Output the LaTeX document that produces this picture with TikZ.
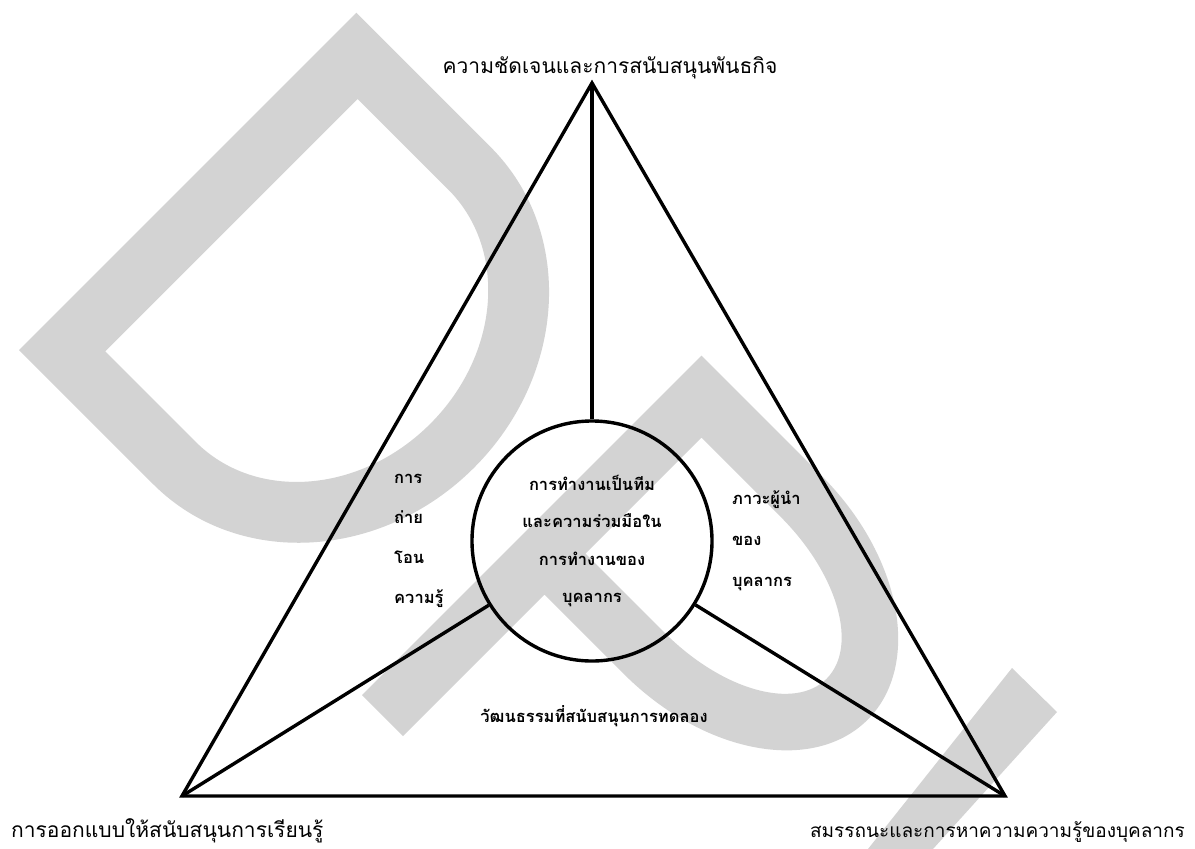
\documentclass[tikz,border=0pt]{standalone}
\usepackage{fontspec}
\newfontfamily\thai[Script=Thai]{Loma}
\definecolor{wm}{RGB}{211,211,211}
\begin{document}
\begin{tikzpicture}[x=1pt,y=-1pt,
  edge/.style={line width=3.4pt},
  plain/.style={font=\thai\fontsize{20}{24}\selectfont, inner sep=0pt},
  boldtxt/.style={font=\thai\bfseries\fontsize{16.5}{40}\selectfont, inner sep=0pt},
]
\useasboundingbox (0,0) rectangle (1195,849);

% light grey letters D, P, U set diagonally behind the figure
\begin{scope}[shift={(19,350)}, x={(0.7071pt,-0.7071pt)}, y={(0.7071pt,0.7071pt)}]
  \fill[wm, even odd rule]
    (0,0) -- (190,0) arc[start angle=-90, end angle=90, x radius=215, y radius=238.5] -- (0,477) -- cycle
    (62,60) -- (190,60) arc[start angle=-90, end angle=90, x radius=153, y radius=178.5] -- (62,417) -- cycle;
\end{scope}
\begin{scope}[shift={(362,695)}, x={(0.7071pt,-0.7071pt)}, y={(0.7071pt,0.7071pt)}]
  \fill[wm, even odd rule]
    (0,0) -- (58,0) -- (58,200) -- (170,200) arc[start angle=-90, end angle=90, x radius=205, y radius=140] -- (0,480) -- cycle
    (58,258) -- (170,258) arc[start angle=-90, end angle=90, x radius=147, y radius=82] -- (58,422) -- cycle;
\end{scope}
\fill[wm] (1012,668) -- (1057,712) -- (933,849) -- (868,849) -- cycle;

% triangle corners and the central circle
\coordinate (A) at (592,83);
\coordinate (B) at (182,796);
\coordinate (C) at (1005,796);
\node[circle, draw, line width=3.4pt, minimum size=240pt, inner sep=0pt, align=center,
      font=\thai\bfseries\fontsize{16.5}{37.5}\selectfont] (core) at (592,541)
  {การทำงานเป็นทีม\\และความร่วมมือใน\\การทำงานของ\\บุคลากร};

\draw[edge] (A) -- (B) -- (C) -- cycle;
\draw[edge] (A) -- (core);
\draw[edge] (B) -- (core);
\draw[edge] (C) -- (core);

% labels
\node[plain, font=\thai\fontsize{21}{24}\selectfont] (mission) at (610,68) {ความชัดเจนและการสนับสนุนพันธกิจ};
\node[plain, anchor=west, font=\thai\fontsize{21}{24}\selectfont] (design) at (11,831) {การออกแบบให้สนับสนุนการเรียนรู้};
\node[plain, anchor=east, font=\thai\fontsize{19}{24}\selectfont] (skill) at (1185,832) {สมรรถนะและการหาความความรู้ของบุคลากร};
\node[boldtxt, anchor=west, align=left] (transfer) at (394,541) {การ\\ถ่าย\\โอน\\ความรู้};
\node[boldtxt, anchor=west, align=left, font=\thai\bfseries\fontsize{16.5}{41}\selectfont] (lead) at (732,541) {ภาวะผู้นำ\\ของ\\บุคลากร};
\node[boldtxt] (culture) at (594,716) {วัฒนธรรมที่สนับสนุนการทดลอง};
\end{tikzpicture}
\end{document}
